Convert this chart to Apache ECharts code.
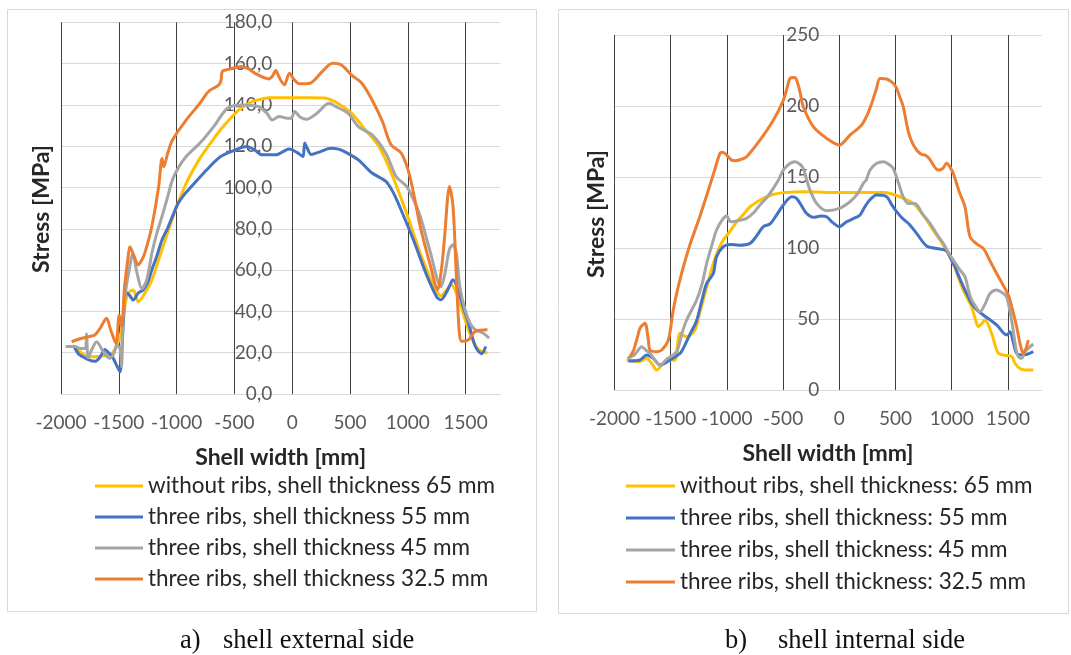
<!DOCTYPE html>
<html><head><meta charset="utf-8">
<script src="https://cdn.jsdelivr.net/npm/echarts@6/dist/echarts.min.js"></script>
<style>html,body{margin:0;padding:0;background:#fff}#c{width:1071px;height:655px}</style>
</head><body><div id="c"></div>
<script>
// ---- data ----
const xMinVal = -2000, xMaxVal = 1800, xStep = 500;
const yExtMax = 180, yExtStep = 20;
const yIntMax = 250, yIntStep = 50;
const colors = ['#FFC000', '#4472C4', '#A5A5A5', '#ED7D31'];
const namesExt = ['without ribs, shell thickness 65 mm', 'three ribs, shell thickness 55 mm', 'three ribs, shell thickness 45 mm', 'three ribs, shell thickness 32.5 mm'];
const namesInt = ['without ribs, shell thickness: 65 mm', 'three ribs, shell thickness: 55 mm', 'three ribs, shell thickness: 45 mm', 'three ribs, shell thickness: 32.5 mm'];
const captionExt = ['a)', 'shell external side'];
const captionInt = ['b)', 'shell internal side'];

// external side (a)
const extNoRibs65 = [[-1900,23.5],[-1865,22],[-1800,19],[-1721,18],[-1640,18.5],[-1577,18.9],[-1520,23],[-1480,30],[-1450,42],[-1419,48.8],[-1375,50.4],[-1332,44.7],[-1274,48.8],[-1215,55],[-1150,66],[-1096,75],[-1036,85],[-977,94],[-900,104],[-800,114],[-700,122],[-590,130],[-500,135.5],[-441,138.5],[-350,141.5],[-250,143],[-200,143.5],[0,143.5],[150,143.5],[280,143.3],[393,140.8],[512,136],[631,128],[750,119.8],[870,105.3],[989,87.6],[1108,68.2],[1227,52],[1286,47.5],[1330,50],[1376,52.9],[1420,49],[1450,44],[1525,31],[1570,25],[1614,21.5],[1689,19.8]];
const extRibs55 = [[-1885,23],[-1850,19.5],[-1811,18],[-1760,16.5],[-1706,15.8],[-1660,18],[-1620,21.5],[-1590,20],[-1557,18.2],[-1520,14],[-1490,10.8],[-1475,20],[-1460,35],[-1440,49],[-1410,48],[-1375,45.5],[-1330,49],[-1289,50.4],[-1250,54],[-1215,60],[-1170,67],[-1126,74.7],[-1080,80],[-1036,86],[-990,92],[-947,95.6],[-858,101.3],[-739,108.6],[-619,115],[-500,118],[-396,119.8],[-320,118],[-262,115.8],[-143,115.8],[-60,118],[-24,118.6],[40,117],[80,115.5],[95,115],[108,121.5],[130,119],[165,116],[244,117.4],[334,119],[400,118.6],[453,117.4],[572,113.4],[691,107],[810,103],[870,98],[929,90.8],[1048,74.7],[1167,57],[1250,47],[1286,45.6],[1346,50.5],[1391,55.3],[1435,50.5],[1480,42],[1525,34.4],[1584,23],[1638,19.5],[1674,23]];
const extRibs45 = [[-1960,23],[-1880,23],[-1830,22],[-1790,22],[-1779,29],[-1765,17.5],[-1730,22],[-1692,25.3],[-1640,21],[-1600,18],[-1577,17.3],[-1540,20],[-1519,23.7],[-1490,22],[-1476,13.2],[-1465,35],[-1440,50],[-1404,62],[-1380,68],[-1340,58],[-1300,51],[-1260,55],[-1230,63],[-1215,68],[-1170,78],[-1126,86],[-1080,95],[-1036,103.7],[-980,110],[-917,115],[-798,121.5],[-679,129.5],[-560,138.4],[-441,140],[-292,139.2],[-220,136],[-173,132.7],[-113,134.4],[-40,133.5],[-9,133.5],[21,136.8],[70,134],[125,133],[214,136],[319,140.8],[378,139.2],[482,136],[572,129.5],[691,125.5],[810,116.6],[899,105.3],[989,100.5],[1050,94],[1108,86],[1197,68.2],[1286,52],[1316,57],[1360,70],[1391,72.3],[1420,68],[1450,52],[1495,40.8],[1540,34],[1584,31.1],[1650,29.5],[1703,27.1]];
const extRibs325 = [[-1908,25.3],[-1850,26.5],[-1760,27.8],[-1707,28.6],[-1660,32],[-1606,36.7],[-1570,31],[-1525,24.5],[-1496,38.3],[-1476,32.6],[-1450,52],[-1420,66],[-1404,71.3],[-1370,67],[-1332,62.5],[-1300,65],[-1275,68.2],[-1215,81],[-1155,100.5],[-1126,114],[-1111,110],[-1080,116],[-1036,123],[-917,132.7],[-798,140.8],[-724,146.5],[-634,149.7],[-615,152],[-605,156.1],[-530,157.5],[-441,158.6],[-380,157.5],[-322,155.3],[-203,152.6],[-170,154],[-143,156.6],[-110,153],[-68,149.7],[-24,155.3],[20,152],[66,150.2],[155,150.5],[200,152.5],[259,156.1],[348,160.2],[423,159.4],[512,154.5],[602,150.5],[691,142.4],[780,132],[855,120.7],[944,116.6],[1018,105.3],[1108,81],[1197,61.8],[1257,50.5],[1290,60],[1316,74.7],[1361,100.5],[1391,90.8],[1420,57],[1445,30],[1465,25.5],[1525,26.3],[1584,30.3],[1689,31.1]];

// internal side (b)
const intNoRibs65 = [[-1892,21.1],[-1830,20.5],[-1774,20],[-1714,22.3],[-1670,18.8],[-1625,14.1],[-1551,20],[-1506,21.1],[-1462,21],[-1417,39.9],[-1358,37.5],[-1284,42.3],[-1250,52],[-1210,63.4],[-1160,78],[-1121,89.2],[-1080,98],[-1032,105.6],[-970,112],[-913,118.5],[-850,124],[-795,129],[-730,132.5],[-676,135],[-600,137.5],[-498,139],[-400,139.5],[-291,139.6],[0,139],[200,139],[392,139],[470,138],[540,136.1],[600,134],[658,131.4],[720,126],[777,119.7],[840,112],[896,105.6],[960,97],[1014,89.2],[1060,79],[1103,70.4],[1150,63],[1177,58.7],[1210,50],[1237,44.6],[1260,46],[1296,49.3],[1355,39.9],[1385,32],[1415,25.8],[1470,24.5],[1534,23.5],[1563,18.8],[1600,15.5],[1652,14.1],[1726,14.1]];
const intRibs55 = [[-1877,20.4],[-1774,21.1],[-1714,24.6],[-1655,22.3],[-1595,17.6],[-1507,21.1],[-1417,25.8],[-1388,29.3],[-1330,39],[-1269,49],[-1220,64],[-1180,75.1],[-1121,82],[-1092,93.9],[-1032,100.9],[-973,102.5],[-890,102],[-794,103.3],[-740,108],[-676,115],[-617,116.9],[-560,123],[-498,130.3],[-424,136.1],[-380,135],[-330,129],[-291,124.4],[-231,121.6],[-160,122.5],[-113,122],[-60,118],[0,115],[65,118.5],[120,120.5],[184,123.2],[220,128],[258,132.6],[332,137.3],[421,136.1],[470,130],[510,125.6],[560,121],[614,117.4],[688,110.3],[777,101.4],[866,99.7],[955,98.1],[990,93],[1029,86.8],[1075,78],[1118,70.4],[1177,61],[1230,56],[1281,52.8],[1400,45.8],[1489,38.7],[1519,41],[1550,33],[1578,25.8],[1637,24.6],[1726,27]];
const intRibs45 = [[-1886,22.3],[-1820,25],[-1758,30.5],[-1720,28],[-1685,26],[-1640,21],[-1595,17.6],[-1530,22],[-1447,27],[-1400,40],[-1358,49.3],[-1269,63.4],[-1220,75],[-1180,89.2],[-1130,103],[-1092,112.7],[-1040,120],[-1002,122.5],[-975,119],[-958,118.5],[-890,119.5],[-825,120.9],[-760,125],[-706,130.3],[-650,135],[-587,142],[-540,148],[-498,154.9],[-440,159.5],[-394,160.8],[-350,159],[-320,156],[-290,148],[-261,140.8],[-202,131.4],[-113,126.3],[0,127.9],[95,132.6],[160,138],[214,145.5],[240,148],[273,154.9],[330,159.5],[392,160.8],[440,159],[480,156],[530,145],[569,136],[614,131.4],[673,131.4],[740,124],[807,117.4],[866,110],[925,103.3],[970,97],[1014,91.5],[1070,85],[1118,79.8],[1150,70],[1177,63.4],[1220,58],[1252,55.1],[1300,61],[1341,68],[1400,70.4],[1460,68],[1489,65.7],[1533,49.3],[1570,30],[1593,23.5],[1622,22.3],[1652,27],[1726,32.4]];
const intRibs325 = [[-1862,23.5],[-1830,28],[-1800,36],[-1770,44],[-1729,47],[-1700,36],[-1684,28.2],[-1625,27],[-1580,28.2],[-1521,35.2],[-1480,55],[-1447,68],[-1400,83],[-1330,102],[-1250,120],[-1180,137],[-1120,152],[-1062,166.6],[-1040,167.5],[-1017,166.6],[-960,162],[-928,161.5],[-870,162.5],[-825,164.3],[-706,176],[-587,190],[-498,204],[-460,214],[-439,219.4],[-400,220],[-380,218.3],[-350,210],[-320,199.5],[-231,185.4],[-113,177.2],[0,172.5],[95,179.5],[199,186.6],[250,194],[288,201.8],[330,212],[362,219.4],[421,219],[480,216],[510,212.4],[540,206],[569,199.5],[614,181.9],[650,174],[688,169],[730,166],[762,165.5],[800,163],[881,154.9],[920,156],[955,159.6],[985,157],[1014,152.6],[1070,139],[1118,129],[1163,108],[1220,103],[1281,99.7],[1340,91],[1400,82],[1504,66.9],[1540,57],[1578,44.6],[1610,32],[1637,25.8],[1660,29],[1681,35.2]];

const extSeries = [extNoRibs65, extRibs55, extRibs45, extRibs325];
const intSeries = [intNoRibs65, intRibs55, intRibs45, intRibs325];

// ---- chart ----
const FONT = 'Lato';
const chart = echarts.init(document.getElementById('c'), null, {renderer: 'canvas'});

const gridExt = {left: 61, top: 22.3, width: 439.3, height: 371.7};
const gridInt = {left: 614.5, top: 35, width: 427.1, height: 355};
// y axis sits at x = 0, i.e. offset inward from the grid's left edge
const yOffExt = -(gridExt.width * (0 - xMinVal) / (xMaxVal - xMinVal));
const yOffInt = -(gridInt.width * (0 - xMinVal) / (xMaxVal - xMinVal));

function xAxisCfg(gridIndex) {
  return {
    gridIndex, type: 'value', min: xMinVal, max: xMaxVal, interval: xStep,
    axisLine: {show: true, onZero: false, lineStyle: {color: '#d9d9d9', width: 1}},
    axisTick: {show: false},
    axisLabel: {color: '#595959', fontSize: 19, fontFamily: FONT, margin: 19, showMaxLabel: false, formatter: v => String(v)},
    splitLine: {show: true, showMaxLine: false, lineStyle: {color: '#404040', width: 1}},
    name: 'Shell width [mm]', nameLocation: 'middle', nameGap: 52,
    nameTextStyle: {color: '#262626', fontSize: 23, fontWeight: 'bold', fontFamily: FONT}
  };
}
function yAxisCfg(gridIndex, max, step, fmt, offset) {
  return {
    gridIndex, type: 'value', min: 0, max, interval: step, offset,
    axisLine: {show: false, onZero: false},
    axisTick: {show: false},
    axisLabel: {color: '#595959', fontSize: 19, fontFamily: FONT, margin: 20, formatter: fmt},
    splitLine: {show: true, lineStyle: {color: '#d9d9d9', width: 1}}
  };
}
function legendCfg(names, left, gap, w) {
  return {
    data: names, orient: 'vertical', left, top: 474.5, padding: 0,
    icon: 'rect', itemWidth: w, itemHeight: 3, itemGap: gap,
    textStyle: {color: '#262626', fontSize: 22.5, fontFamily: FONT, lineHeight: 23},
    selectedMode: false
  };
}
function mkSeries(names, data, xi) {
  return data.map((d, i) => ({
    name: names[i], type: 'line', xAxisIndex: xi, yAxisIndex: xi,
    data: d, smooth: 0.3, symbol: 'none', animation: false,
    lineStyle: {color: colors[i], width: 3}, itemStyle: {color: colors[i]}
  }));
}

const capStyle = {fill: '#111', fontSize: 26.5, fontFamily: 'Liberation Serif', align: 'left', verticalAlign: 'middle'};
const titleStyle = {fill: '#262626', fontSize: 23, fontWeight: 'bold', fontFamily: FONT, align: 'center', verticalAlign: 'middle'};

const option = {
  animation: false,
  backgroundColor: '#ffffff',
  grid: [gridExt, gridInt],
  xAxis: [xAxisCfg(0), xAxisCfg(1)],
  yAxis: [
    yAxisCfg(0, yExtMax, yExtStep, v => v.toFixed(1).replace('.', ','), yOffExt),
    yAxisCfg(1, yIntMax, yIntStep, v => String(v), yOffInt)
  ],
  legend: [legendCfg(namesExt, 95, 8, 48), legendCfg(namesInt, 626, 9, 49)],
  series: [...mkSeries(namesExt, extSeries, 0), ...mkSeries(namesInt, intSeries, 1)],
  graphic: [
    {type: 'rect', silent: true, shape: {x: 7.5, y: 9.5, width: 529, height: 602}, style: {fill: 'none', stroke: '#d9d9d9', lineWidth: 1}},
    {type: 'rect', silent: true, shape: {x: 558.5, y: 9.5, width: 510, height: 604}, style: {fill: 'none', stroke: '#d9d9d9', lineWidth: 1}},
    {type: 'text', x: 41.5, y: 209, rotation: Math.PI / 2, style: Object.assign({text: 'Stress [MPa]'}, titleStyle)},
    {type: 'text', x: 596.7, y: 214, rotation: Math.PI / 2, style: Object.assign({text: 'Stress [MPa]'}, titleStyle)},
    {type: 'text', x: 180, y: 641, style: Object.assign({text: captionExt[0]}, capStyle)},
    {type: 'text', x: 223, y: 641, style: Object.assign({text: captionExt[1]}, capStyle)},
    {type: 'text', x: 725, y: 641, style: Object.assign({text: captionInt[0]}, capStyle)},
    {type: 'text', x: 778, y: 641, style: Object.assign({text: captionInt[1]}, capStyle)}
  ]
};
chart.setOption(option);
</script>
</body></html>
